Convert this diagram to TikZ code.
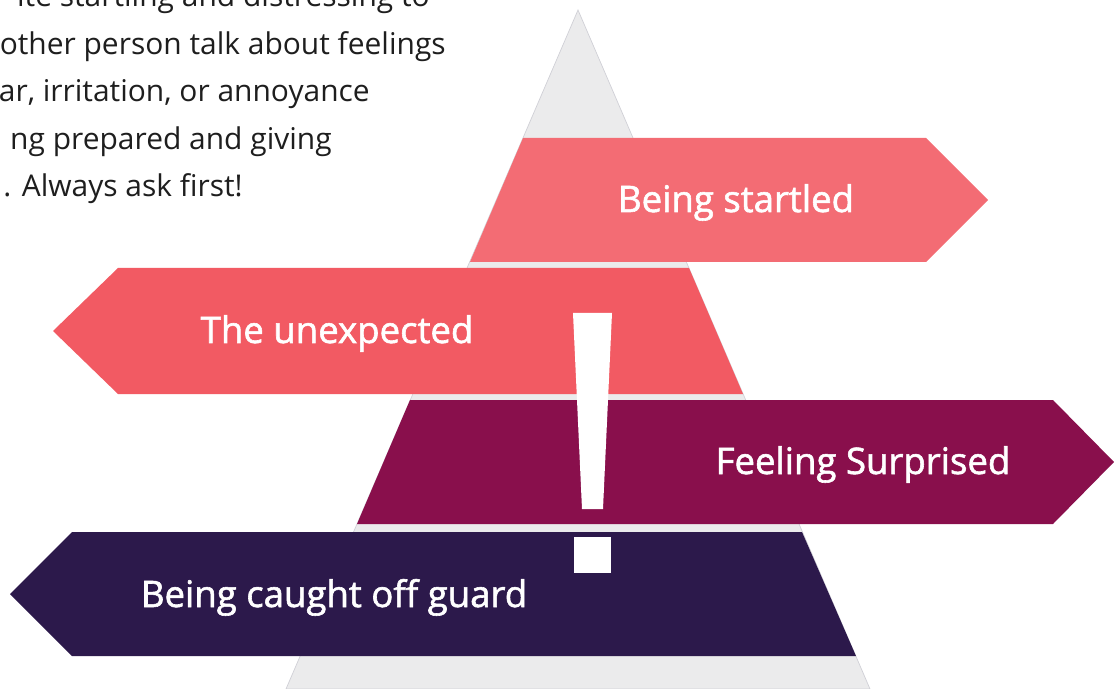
\documentclass[tikz,border=0pt]{standalone}
\usepackage{fontspec}
\setmainfont{Open Sans}
\newfontfamily\bandfont[FakeBold=1.6]{Open Sans}
\usepackage{xcolor}
\usepackage{tikz}
\definecolor{startledpink}{RGB}{243,108,116}
\definecolor{unexpectedred}{RGB}{242,90,99}
\definecolor{surprisedplum}{RGB}{137,15,76}
\definecolor{caughtpurple}{RGB}{44,25,75}
\definecolor{pyramidgray}{RGB}{235,235,236}
\definecolor{pyramidedge}{RGB}{208,208,214}
\definecolor{introgray}{RGB}{30,30,30}

\begin{document}
\begin{tikzpicture}[x=0.025cm, y=-0.025cm,
  bandlabel/.style={text=white, font=\bandfont\fontsize{26}{31}\selectfont, anchor=base, inner sep=0pt},
  introline/.style={text=introgray, font=\fontsize{21.3}{25}\selectfont, anchor=base east, inner sep=0pt}]
\clip (0,0) rectangle (1114,689);

% Intro text, cut off by the page edge
\node[introline] (introa) at (430,7) {ite startling and distressing to};
\node[introline] (introb) at (446,55) {other person talk about feelings};
\node[introline] (introc) at (370,102) {ar, irritation, or annoyance};
\node[introline] (introd) at (332,150) {ng prepared and giving};
\node[introline] (introe) at (243,197) {. Always ask first!};

% Grey pyramid behind the bands
\fill[pyramidgray, draw=pyramidedge, line width=0.5pt] (578,10) -- (870,689) -- (286,689) -- cycle;

% Four arrow bands
\fill[startledpink] (523,138) -- (926,138) -- (988,200) -- (926,262) -- (470,262) -- cycle;
\fill[unexpectedred] (118,268) -- (689,268) -- (743,394) -- (118,394) -- (53,331) -- cycle;
\fill[surprisedplum] (410,400) -- (1053,400) -- (1114,462) -- (1053,524) -- (357,524) -- cycle;
\fill[caughtpurple] (72,532) -- (802,532) -- (856,656) -- (72,656) -- (10,594) -- cycle;

% Exclamation mark
\fill[white] (573,313) -- (612,313) -- (603,509) -- (582,509) -- cycle;
\fill[white] (574,537) rectangle (611,573);

% Band labels
\node[bandlabel] (startled) at (736,212) {Being startled};
\node[bandlabel] (unexpected) at (337,343) {The unexpected};
\node[bandlabel] (surprised) at (863,474) {Feeling Surprised};
\node[bandlabel] (caughtoff) at (334,607) {Being caught off guard};
\end{tikzpicture}
\end{document}
